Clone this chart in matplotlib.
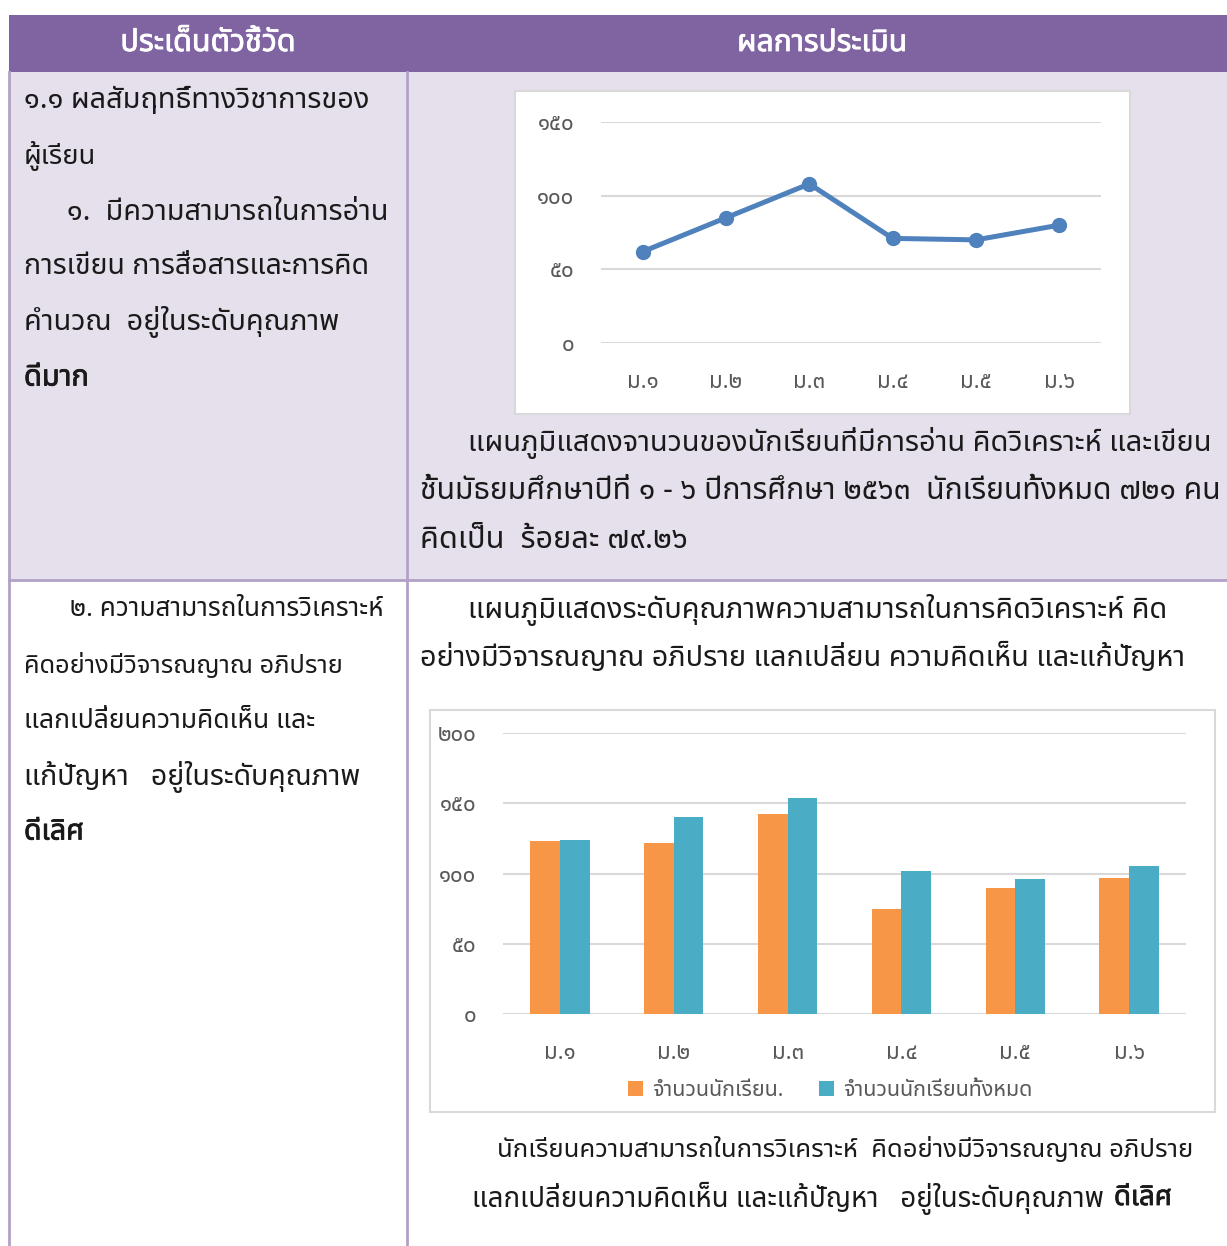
import matplotlib
matplotlib.use("Agg")
import matplotlib.pyplot as plt
import matplotlib.patheffects as pe
from matplotlib.patches import Rectangle

W, H = 1227, 1246

# data
grades = ["ม.๑", "ม.๒", "ม.๓", "ม.๔", "ม.๕", "ม.๖"]
reading_thinking = [62, 85, 108, 71, 70, 80]
good_students = [123, 122, 142, 75, 90, 97]
all_students = [124, 140, 154, 102, 96, 105]
line_ticks = [0, 50, 100, 150]
line_ticklabels = ["๐", "๕๐", "๑๐๐", "๑๕๐"]
bar_ticks = [0, 50, 100, 150, 200]
bar_ticklabels = ["๐", "๕๐", "๑๐๐", "๑๕๐", "๒๐๐"]
legend_labels = ["จำนวนนักเรียน.", "จำนวนนักเรียนทั้งหมด"]

FONTS = ["Noto Sans Thai", "Noto Sans Thai Looped", "Loma", "Garuda", "Tlwg Typo",
         "Kinnari", "Norasi", "Sarabun", "Tahoma", "DejaVu Sans"]
plt.rcParams["font.family"] = FONTS

PURPLE = "#8064A2"
LAVENDER = "#E5E0EC"
BORDER = "#B2A1C7"
GRID = "#D9D9D9"
TICK = "#595959"
TEXT = "#1a1a1a"

fig = plt.figure(figsize=(W / 100, H / 100), dpi=100)
renderer = fig.canvas.get_renderer()

# background axes in pixel coordinates
bg = fig.add_axes([0, 0, 1, 1])
bg.set_xlim(0, W)
bg.set_ylim(H, 0)
bg.axis("off")

bg.add_patch(Rectangle((9, 15), W - 9, 57, facecolor=PURPLE, edgecolor="none"))
bg.add_patch(Rectangle((9, 72), W - 9, 508, facecolor=LAVENDER, edgecolor="none"))
for x in (9, 407):
    bg.plot([x, x], [72, H], color=BORDER, lw=2)
bg.plot([9, W], [580, 580], color=BORDER, lw=2)


def fit_text(x0, y, s, x1, bold=False, color=TEXT, ha="left"):
    # scale the font so the line spans x0..x1 (or is x1 wide when centred)
    t = bg.text(x0, y, s, fontsize=20, color=color, ha=ha, va="center")
    if bold:
        t.set_path_effects([pe.withStroke(linewidth=0.6, foreground=color)])
    w = t.get_window_extent(renderer=renderer).width
    t.set_fontsize(20 * (x1 - x0) / w if ha == "left" else 20 * x1 / w)
    return t


fit_text(208, 43, "ประเด็นตัวชี้วัด", 175, bold=True, color="white", ha="center")
fit_text(822, 43, "ผลการประเมิน", 170, bold=True, color="white", ha="center")

lines = [
    (24, 100, "๑.๑ ผลสัมฤทธิ์ทางวิชาการของ", 370, False),
    (24, 156, "ผู้เรียน", 96, False),
    (67, 212, "๑.  มีความสามารถในการอ่าน", 389, False),
    (24, 267, "การเขียน การสื่อสารและการคิด", 369, False),
    (24, 322, "คำนวณ  อยู่ในระดับคุณภาพ", 340, False),
    (24, 378, "ดีมาก", 89, True),
    (70, 610, "๒. ความสามารถในการวิเคราะห์", 383, False),
    (24, 666, "คิดอย่างมีวิจารณญาณ อภิปราย", 343, False),
    (24, 721, "แลกเปลี่ยนความคิดเห็น และ", 316, False),
    (24, 777, "แก้ปัญหา   อยู่ในระดับคุณภาพ", 361, False),
    (24, 832, "ดีเลิศ", 84, True),
    (468, 443, "แผนภูมิแสดงจานวนของนักเรียนที่มีการอ่าน คิดวิเคราะห์ และเขียน", 1213, False),
    (420, 491, "ชั้นมัธยมศึกษาปีที่ ๑ - ๖ ปีการศึกษา ๒๕๖๓  นักเรียนทั้งหมด ๗๒๑ คน", 1222, False),
    (420, 540, "คิดเป็น  ร้อยละ ๗๙.๒๖", 688, False),
    (468, 610, "แผนภูมิแสดงระดับคุณภาพความสามารถในการคิดวิเคราะห์ คิด", 1168, False),
    (420, 658, "อย่างมีวิจารณญาณ อภิปราย แลกเปลี่ยน ความคิดเห็น และแก้ปัญหา", 1186, False),
    (497, 1150, "นักเรียนความสามารถในการวิเคราะห์  คิดอย่างมีวิจารณญาณ อภิปราย", 1192, False),
    (472, 1198, "แลกเปลี่ยนความคิดเห็น และแก้ปัญหา   อยู่ในระดับคุณภาพ", 1104, False),
    (1114, 1198, "ดีเลิศ", 1172, True),
]
for x0, y, s, x1, b in lines:
    fit_text(x0, y, s, x1, bold=b)

# chart frames
bg.add_patch(Rectangle((515, 91), 615, 323, facecolor="white", edgecolor=GRID, lw=1.5))
bg.add_patch(Rectangle((430, 710), 785, 402, facecolor="white", edgecolor=GRID, lw=1.5))


def px_axes(x0, y0, x1, y1):
    return fig.add_axes([x0 / W, 1 - y1 / H, (x1 - x0) / W, (y1 - y0) / H])


def style(ax, ticks, labels):
    ax.set_facecolor("none")
    for s in ax.spines.values():
        s.set_visible(False)
    ax.set_yticks(ticks)
    ax.set_yticklabels(labels)
    ax.grid(axis="y", color=GRID, lw=1.5)
    ax.set_axisbelow(True)
    ax.tick_params(length=0, colors=TICK, labelsize=16)
    ax.tick_params(axis="y", pad=19)
    ax.tick_params(axis="x", pad=21)


# line chart
ax1 = px_axes(601, 122, 1101, 343)
xs = range(len(grades))
ax1.plot(xs, reading_thinking, color="#4F81BD", lw=3.6, marker="o", markersize=10)
ax1.set_xlim(-0.5, len(grades) - 0.5)
ax1.set_ylim(0, 150)
ax1.set_xticks(list(xs))
ax1.set_xticklabels(grades)
style(ax1, line_ticks, line_ticklabels)

# bar chart
ax2 = px_axes(503, 733, 1186, 1014)
bw = 0.26
ax2.bar([i - bw / 2 for i in xs], good_students, width=bw, color="#F79646", label=legend_labels[0])
ax2.bar([i + bw / 2 for i in xs], all_students, width=bw, color="#4BACC6", label=legend_labels[1])
ax2.set_xlim(-0.5, len(grades) - 0.5)
ax2.set_ylim(0, 200)
ax2.set_xticks(list(xs))
ax2.set_xticklabels(grades)
style(ax2, bar_ticks, bar_ticklabels)
ax2.legend(loc="center", bbox_to_anchor=(0.479, -0.274), ncol=2, frameon=False,
           fontsize=15.5, labelcolor=TICK, handlelength=0.7, handleheight=0.7,
           columnspacing=1.67, handletextpad=0.4)

fig.savefig("out.png", dpi=100)
